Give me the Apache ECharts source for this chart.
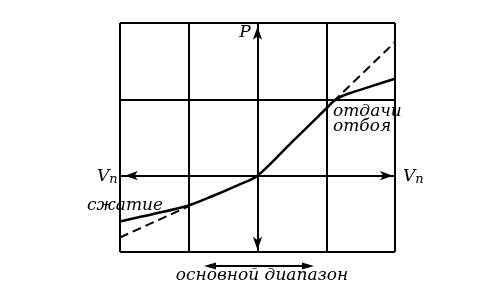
<!DOCTYPE html>
<html><head><meta charset="utf-8">
<script src="https://cdn.jsdelivr.net/npm/echarts@6/dist/echarts.min.js"></script>
<style>html,body{margin:0;padding:0;background:#fff}#c{width:497px;height:302px}</style>
</head><body><div id="c"></div>
<script>
// Data (characteristic curve of a shock absorber: force P vs velocity Vn)
const solidX = [-2, -1.5, -1, -0.66, -0.3, 0, 0.5, 1, 1.1, 1.2, 1.34, 1.65, 2];
const solidY = [-0.60, -0.50, -0.39, -0.27, -0.13, 0, 0.44, 0.88, 0.97, 1.03, 1.08, 1.17, 1.27];
const dashRightX = [1.1, 2];
const dashRightY = [0.97, 1.75];
const dashLeftX = [-2, -1];
const dashLeftY = [-0.81, -0.40];
const xTicks = [-2, -1, 0, 1, 2];
const yTicks = [-1, 0, 1, 2];
const labels = { left: 'V', sub: 'n', p: 'P', comp: 'сжатие', reb1: 'отдачи', reb2: 'отбоя', range: 'основной диапазон' };

const zip = (xs, ys) => xs.map((x, i) => [x, ys[i]]);
const FONT = 'DejaVu Serif';
const chart = echarts.init(document.getElementById('c'), null, { renderer: 'canvas' });
const txt = (text, x, y, align, size) => ({
  type: 'text', x, y,
  style: { text, x: 0, y: 0, fill: '#000', font: 'italic ' + (size || 16) + 'px "' + FONT + '"', textAlign: align || 'left', textVerticalAlign: 'middle' }
});
const vn = (x, y) => ({
  type: 'text', x, y,
  style: {
    text: '{v|' + labels.left + '}{n|' + labels.sub + '}', x: 0, y: 0, textVerticalAlign: 'middle',
    rich: {
      v: { font: 'italic 17px "' + FONT + '"', fill: '#000' },
      n: { font: 'italic 13px "' + FONT + '"', fill: '#000', padding: [6, 0, 0, 0] }
    }
  }
});
chart.setOption({
  animation: false,
  grid: { left: 120, right: 102, top: 23, bottom: 50, containLabel: false },
  xAxis: {
    type: 'value', min: xTicks[0], max: xTicks[xTicks.length - 1], interval: 1,
    axisLine: { show: false }, axisTick: { show: false }, axisLabel: { show: false },
    splitLine: { show: true, lineStyle: { color: '#000', width: 2 } }
  },
  yAxis: {
    type: 'value', min: yTicks[0], max: yTicks[yTicks.length - 1], interval: 1,
    axisLine: { show: false }, axisTick: { show: false }, axisLabel: { show: false },
    splitLine: { show: true, lineStyle: { color: '#000', width: 2 } }
  },
  series: [
    {
      type: 'line', data: zip(solidX, solidY), smooth: 0.3, symbol: 'none',
      lineStyle: { color: '#000', width: 2.5 },
      markLine: {
        silent: true, symbol: ['arrow', 'arrow'], symbolSize: [7, 13], label: { show: false },
        lineStyle: { color: '#000', width: 2, type: 'solid' },
        data: [
          [{ coord: [-1.93, 0] }, { coord: [1.97, 0] }],
          [{ coord: [0, -0.97] }, { coord: [0, 1.95] }]
        ]
      }
    },
    { type: 'line', data: zip(dashRightX, dashRightY), symbol: 'none', lineStyle: { color: '#000', width: 2, type: [9, 5] } },
    { type: 'line', data: zip(dashLeftX, dashLeftY), symbol: 'none', lineStyle: { color: '#000', width: 2, type: [9, 5] } }
  ],
  graphic: [
    vn(97, 177), vn(403, 177),
    txt(labels.p, 245, 33, 'center', 17),
    txt(labels.comp, 87, 206, 'left', 17),
    txt(labels.reb1, 333, 112, 'left', 17),
    txt(labels.reb2, 333, 127, 'left', 17),
    txt(labels.range, 262, 276, 'center', 17),
    { type: 'line', shape: { x1: 212, y1: 266, x2: 306, y2: 266 }, style: { stroke: '#000', lineWidth: 2 } },
    { type: 'polygon', shape: { points: [[204, 266], [216, 262.5], [216, 269.5]] }, style: { fill: '#000' } },
    { type: 'polygon', shape: { points: [[314, 266], [302, 262.5], [302, 269.5]] }, style: { fill: '#000' } }
  ]
});
</script></body></html>
